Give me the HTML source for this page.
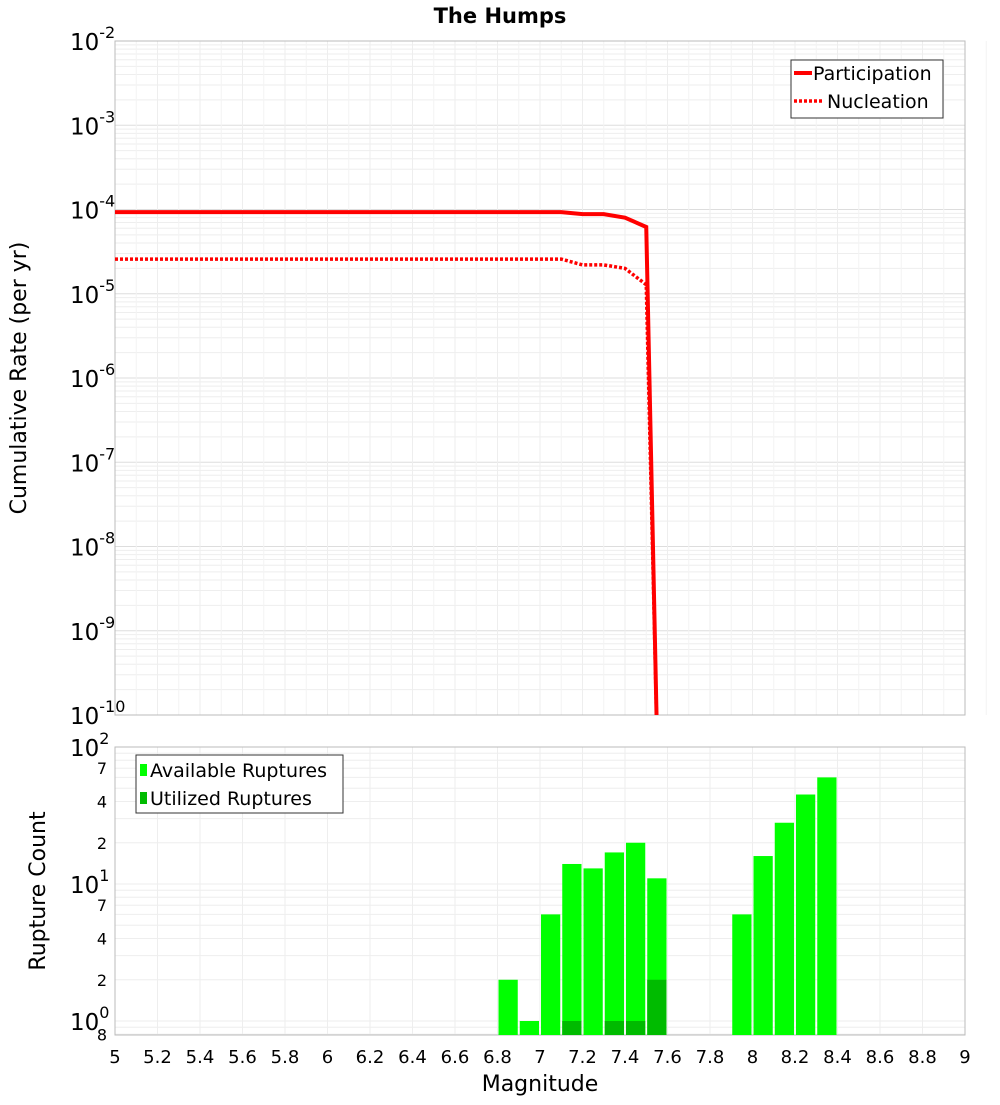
<!DOCTYPE html>
<html><head><meta charset="utf-8"><style>
body{margin:0;background:#fff;font-family:"Liberation Sans","DejaVu Sans",sans-serif}
svg text{font-family:"DejaVu Sans","Liberation Sans",sans-serif}
</style></head><body>
<svg id="c" width="1000" height="1100" xmlns="http://www.w3.org/2000/svg"></svg>
<script>
const partMag=[5.0,7.1,7.2,7.3,7.4,7.5,7.55];
const partRate=[9.3e-5,9.3e-5,8.8e-5,8.8e-5,8.0e-5,6.2e-5,1e-11];
const nuclMag=[5.0,7.1,7.2,7.3,7.4,7.5,7.55];
const nuclRate=[2.58e-5,2.58e-5,2.2e-5,2.2e-5,2.0e-5,1.28e-5,1e-11];
const binMag=[6.85,6.95,7.05,7.15,7.25,7.35,7.45,7.55,7.95,8.05,8.15,8.25,8.35];
const availCount=[2,1,6,14,13,17,20,11,6,16,28,45,60];
const usedMag=[7.15,7.35,7.45,7.55];
const usedCount=[1,1,1,2];
const xTicks=[5,5.2,5.4,5.6,5.8,6,6.2,6.4,6.6,6.8,7,7.2,7.4,7.6,7.8,8,8.2,8.4,8.6,8.8,9];
const topDecades=[-2,-3,-4,-5,-6,-7,-8,-9,-10];

const svg=document.getElementById('c');const NS='http://www.w3.org/2000/svg';
function el(t,a,p){const e=document.createElementNS(NS,t);for(const k in a)e.setAttribute(k,a[k]);(p||svg).appendChild(e);return e;}
const X0=115,X1=965;
const xs=m=>X0+(m-5)/4*(X1-X0);
const T0=41,T1=715;
const yTop=v=>{let l=Math.log10(v);if(l<-10.2)l=-10.2;return T0+(-2-l)*(T1-T0)/8;};
const B0=747,B1=1035;
const yBot=v=>B0+(2-Math.log10(v))*137;

// title
let t=el('text',{x:500,y:23,'text-anchor':'middle','font-size':21,'font-weight':'bold'});t.textContent='The Humps';


// top plot grid
let g=el('g',{});
for(let d=-10;d<-2;d++){for(let k=1;k<10;k++){const y=yTop(k*Math.pow(10,d));el('line',{x1:X0,x2:X1,y1:y,y2:y,stroke:k==1?'#ddd':'#eee','stroke-width':1},g);}}
xTicks.forEach(m=>{el('line',{x1:xs(m),x2:xs(m),y1:T0,y2:T1,stroke:'#eee'},g);el('line',{x1:xs(m),x2:xs(m),y1:B0,y2:B1,stroke:'#eee'},g);});
xTicks.forEach(m=>{el('line',{x1:xs(m)+21.25,x2:xs(m)+21.25,y1:T0,y2:T1,stroke:'#f3f3f3'},g);});
el('rect',{x:X0,y:T0,width:X1-X0,height:T1-T0,fill:'none',stroke:'#bbb'});
// top y labels
topDecades.forEach(d=>{const y=yTop(Math.pow(10,d));let tx=el('text',{x:70,y:y+9,'font-size':23});tx.textContent='10';
let s=el('tspan',{dy:-12,'font-size':16},tx);s.textContent=String(d);});
t=el('text',{x:0,y:0,'font-size':22,'text-anchor':'middle',transform:'translate(26,378) rotate(-90)'});t.textContent='Cumulative Rate (per yr)';

// lines
const clip=el('clipPath',{id:'cp'});el('rect',{x:X0,y:T0,width:X1-X0,height:T1-T0},clip);
let p=el('polyline',{points:partMag.map((m,i)=>xs(m)+','+yTop(partRate[i])).join(' '),fill:'none',stroke:'#f00','stroke-width':4,'clip-path':'url(#cp)'});

p=el('polyline',{points:nuclMag.map((m,i)=>xs(m)+','+yTop(nuclRate[i])).join(' '),fill:'none',stroke:'#f00','stroke-width':3.5,'stroke-dasharray':'3,2','clip-path':'url(#cp)'});

// legend top
g=el('g',{});
el('rect',{x:791,y:60,width:152,height:58,fill:'#fff',stroke:'#333'},g);
el('line',{x1:794,x2:812,y1:73,y2:73,stroke:'#f00','stroke-width':4},g);
el('line',{x1:794,x2:822,y1:101,y2:101,stroke:'#f00','stroke-width':3.5,'stroke-dasharray':'3,2'},g);
t=el('text',{x:813,y:80,'font-size':19},g);t.textContent='Participation';
t=el('text',{x:827,y:108,'font-size':19},g);t.textContent='Nucleation';

// bottom grid
g=el('g',{});
[0.8,0.9,1,2,3,4,5,6,7,8,9,10,20,30,40,50,60,70,80,90,100].forEach(v=>{const y=yBot(v);el('line',{x1:X0,x2:X1,y1:y,y2:y,stroke:'#eee'},g);});
el('rect',{x:X0,y:B0,width:X1-X0,height:B1-B0,fill:'none',stroke:'#bbb'});
// bars
binMag.forEach((m,i)=>{const y=yBot(availCount[i]);const r=el('rect',{x:xs(m-0.05)+1,y:y,width:xs(m+0.05)-xs(m-0.05)-2,height:B1-y,fill:'#00ff00'});
});
usedMag.forEach((m,i)=>{const y=yBot(usedCount[i]);const r=el('rect',{x:xs(m-0.05)+1,y:y,width:xs(m+0.05)-xs(m-0.05)-2,height:B1-y,fill:'#00bb00'});
});
// bottom y labels
[[100,'2'],[10,'1'],[1,'0']].forEach(([v,e])=>{const y=yBot(v);let tx=el('text',{x:70,y:y+9,'font-size':23});tx.textContent='10';
let s=el('tspan',{dy:-12,'font-size':16},tx);s.textContent=e;});
[[70,'7'],[40,'4'],[20,'2'],[7,'7'],[4,'4'],[2,'2'],[0.8,'8']].forEach(([v,s])=>{let tx=el('text',{x:107,y:yBot(v)+6,'font-size':16,'text-anchor':'end'});tx.textContent=s;
});
t=el('text',{x:0,y:0,'font-size':22,'text-anchor':'middle',transform:'translate(45,891) rotate(-90)'});t.textContent='Rupture Count';

// legend bottom
g=el('g',{});
el('rect',{x:136,y:755,width:207,height:58,fill:'#fff',stroke:'#333'},g);
el('rect',{x:140,y:764,width:7,height:12,fill:'#00ff00'},g);
el('rect',{x:140,y:792,width:7,height:12,fill:'#00bb00'},g);
t=el('text',{x:150,y:777,'font-size':19},g);t.textContent='Available Ruptures';
t=el('text',{x:150,y:805,'font-size':19},g);t.textContent='Utilized Ruptures';
// x ticks
xTicks.forEach(m=>{let tx=el('text',{x:xs(m),y:1063,'font-size':18,'text-anchor':'middle'});tx.textContent=String(m);
});
t=el('text',{x:540,y:1091,'font-size':22,'text-anchor':'middle'});t.textContent='Magnitude';

</script>
</body></html>
